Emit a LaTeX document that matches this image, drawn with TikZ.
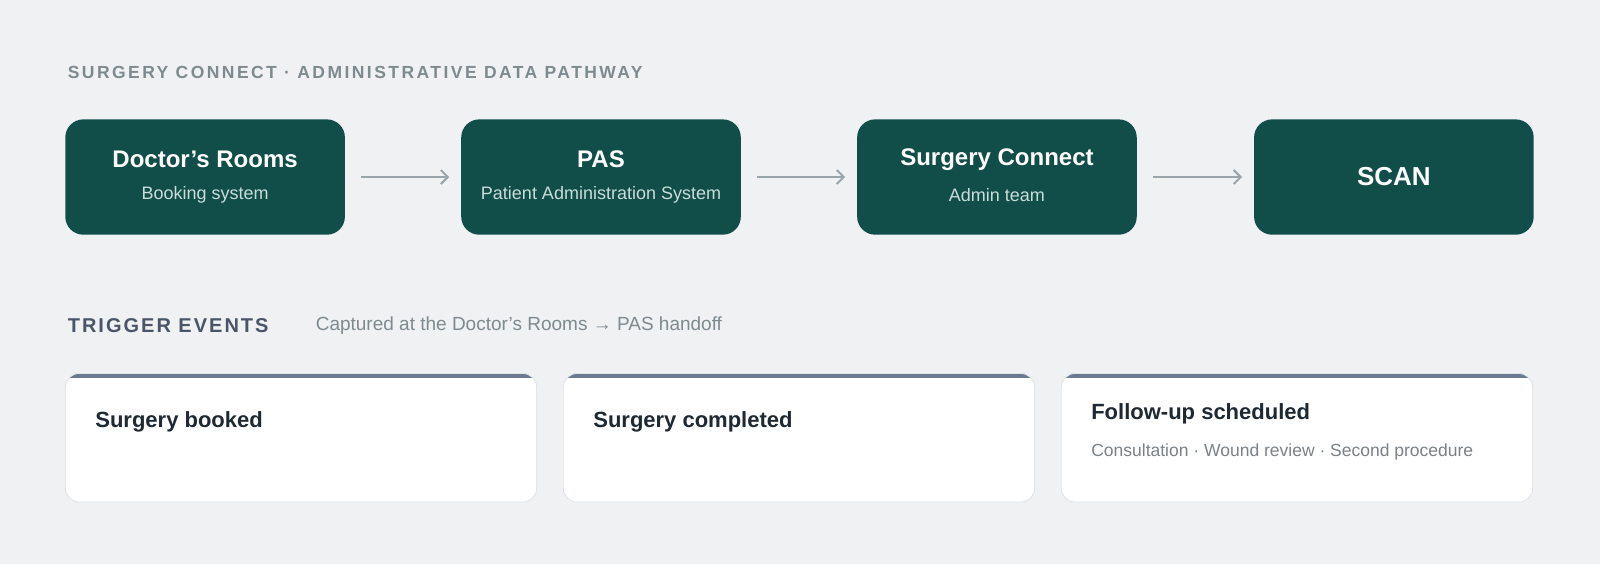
\documentclass[tikz,border=0pt]{standalone}
\usepackage{fontspec}
\setmainfont{Liberation Sans}
\usetikzlibrary{arrows.meta}
\definecolor{bg}{HTML}{EFF1F3}
\definecolor{boxc}{HTML}{114E4A}
\definecolor{subc}{HTML}{C8DDD9}
\definecolor{hdr}{HTML}{7F8A8F}
\definecolor{trig}{HTML}{4A5568}
\definecolor{ctitle}{HTML}{1F2933}
\definecolor{csub}{HTML}{7A8288}
\definecolor{cbord}{HTML}{6B7A90}
\definecolor{arr}{HTML}{9AA5AA}
\definecolor{cline}{HTML}{E0E3E6}
\begin{document}
\begin{tikzpicture}[x=1.0204pt,y=-1.0204pt,
  stage/.style={fill=boxc,rounded corners=18pt},
  st/.style={text=white,font=\bfseries\fontsize{24}{28}\selectfont,anchor=center},
  ss/.style={text=subc,font=\fontsize{18}{22}\selectfont,anchor=center},
  flow/.style={draw=arr,line width=2pt,-{Straight Barb[length=7pt,width=14pt]}},
  ctit/.style={text=ctitle,font=\bfseries\fontsize{22}{26}\selectfont,anchor=west},
]
\fill[bg] (0,0) rectangle (1568,553);
\useasboundingbox (0,0) rectangle (1568,553);
\node[anchor=west,text=hdr,font=\bfseries\fontsize{17.5}{20}\selectfont\addfontfeature{LetterSpace=14}] (hdr) at (63,71) {SURGERY CONNECT · ADMINISTRATIVE DATA PATHWAY};
% stages
\foreach \n/\x in {a/64,b/452,c/840,d/1229}{
  \path[stage] (\x,117) rectangle ++(274,113);
  \coordinate (\n) at (\x+137,173.5);
  \coordinate (\n L) at (\x,173.5);
  \coordinate (\n R) at (\x+274,173.5);
}
\node[st] (at) at (201,156) {Doctor’s Rooms};
\node[ss] (as) at (201,191) {Booking system};
\node[st] (bt) at (589,156) {PAS};
\node[ss] (bs) at (589,191) {Patient Administration System};
\node[st] (ct) at (977,156) {Surgery Connect};
\node[ss] (cs) at (977,191) {Admin team};
\node[st,font=\bfseries\fontsize{26}{30}\selectfont] (dt) at (1366,173) {SCAN};
\draw[flow] ([xshift=16]aR) -- ([xshift=-12]bL);
\draw[flow] ([xshift=16]bR) -- ([xshift=-12]cL);
\draw[flow] ([xshift=16]cR) -- ([xshift=-12]dL);
% trigger
\node[anchor=west,text=trig,font=\bfseries\fontsize{20}{24}\selectfont\addfontfeature{LetterSpace=10}] (tr) at (63,319) {TRIGGER EVENTS};
\node[anchor=west,text=hdr,font=\fontsize{19}{23}\selectfont] (cap) at (306,319) {Captured at the Doctor’s Rooms → PAS handoff};
\foreach \x in {64,552,1040}{
  \begin{scope}
  \path[clip,rounded corners=14pt] (\x,366) rectangle ++(462,126);
  \fill[white] (\x,366) rectangle ++(462,126);
  \fill[cbord] (\x,366) rectangle ++(462,4);
  \end{scope}
  \draw[cline,rounded corners=14pt,line width=0.8pt] (\x,366) rectangle ++(462,126);
}
\node[ctit] (k1) at (90,413) {Surgery booked};
\node[ctit] (k2) at (578,413) {Surgery completed};
\node[ctit] (k3) at (1066,406) {Follow-up scheduled};
\node[anchor=west,text=csub,font=\fontsize{17.5}{21}\selectfont] (k3s) at (1066,443) {Consultation · Wound review · Second procedure};
\end{tikzpicture}
\end{document}
